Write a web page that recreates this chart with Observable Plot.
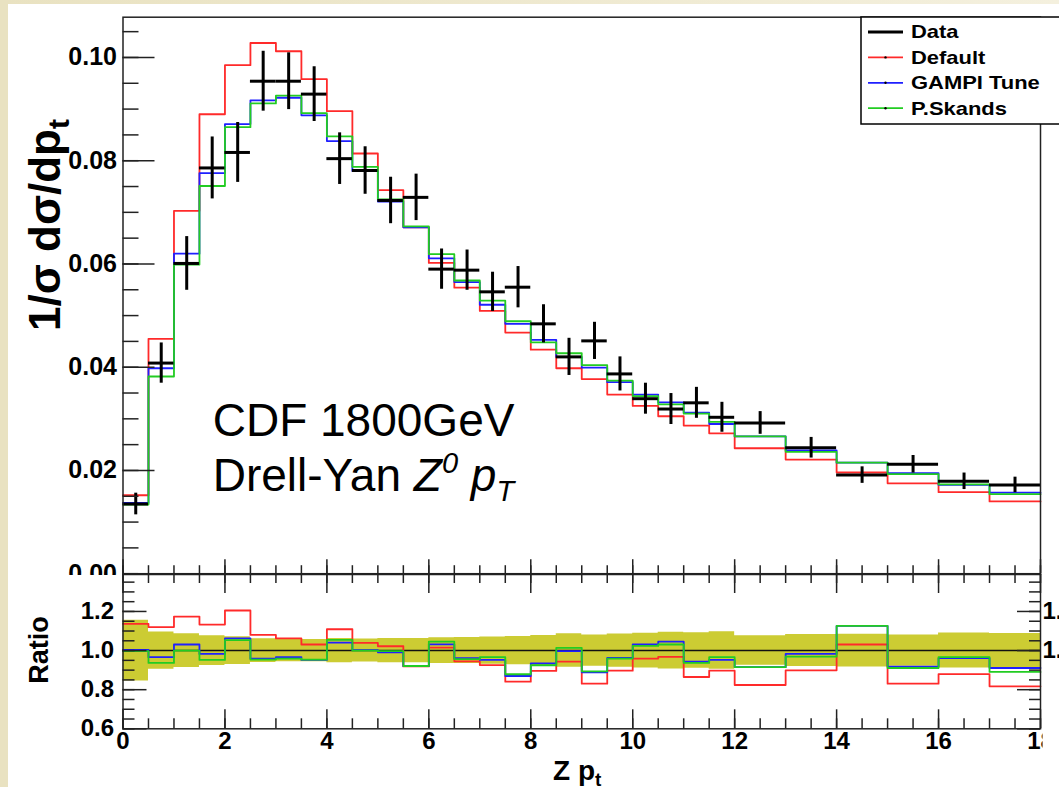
<!DOCTYPE html>
<html>
<head>
<meta charset="utf-8">
<script src="https://cdn.jsdelivr.net/npm/d3@7"></script>
<script src="https://cdn.jsdelivr.net/npm/@observablehq/plot@0.6"></script>
<style>
  html, body { margin: 0; padding: 0; background: #fff; overflow: hidden; }
  #chart { position: relative; width: 1059px; height: 787px; background: #fff; }
  #chart svg { position: absolute; left: 0; }
  .edge { position: absolute; z-index: 5; }
</style>
</head>
<body>
<div id="chart">
  <div class="edge" style="left:0;top:0;width:1059px;height:4px;background:linear-gradient(to right,#e9e2c1,#f4f0de);"></div>
  <div class="edge" style="left:0;top:0;width:8px;height:787px;background:#e9e2c1;"></div>
</div>
<script>
// Z pT bins (GeV): 0.5 wide up to 12, then 1 wide up to 18
const binLow  = [0, 0.5, 1, 1.5, 2, 2.5, 3, 3.5, 4, 4.5, 5, 5.5, 6, 6.5, 7, 7.5, 8, 8.5, 9, 9.5, 10, 10.5, 11, 11.5, 12, 13, 14, 15, 16, 17];
const binHigh = [0.5, 1, 1.5, 2, 2.5, 3, 3.5, 4, 4.5, 5, 5.5, 6, 6.5, 7, 7.5, 8, 8.5, 9, 9.5, 10, 10.5, 11, 11.5, 12, 13, 14, 15, 16, 17, 18];

// CDF measurement, 1/sigma dsigma/dpT
const dataValue = [0.0135, 0.0408, 0.0601, 0.0786, 0.0816, 0.0954, 0.0954, 0.0929, 0.0804, 0.0781, 0.0723, 0.0729, 0.0590, 0.0588, 0.0546, 0.0555, 0.0484, 0.0420, 0.0451, 0.0387, 0.0339, 0.0319, 0.0331, 0.0303, 0.0292, 0.0244, 0.0191, 0.0212, 0.0179, 0.0172];
const dataError = [0.0021, 0.0039, 0.0052, 0.0060, 0.0058, 0.0058, 0.0055, 0.0053, 0.0050, 0.0046, 0.0045, 0.0045, 0.0039, 0.0039, 0.0038, 0.0040, 0.0037, 0.0036, 0.0036, 0.0033, 0.0030, 0.0030, 0.0030, 0.0029, 0.0022, 0.0020, 0.0016, 0.0017, 0.0016, 0.0015];

// Generator predictions
const defaultValue = [0.0152, 0.0455, 0.0703, 0.0890, 0.0985, 0.1028, 0.1012, 0.0958, 0.0896, 0.0814, 0.0743, 0.0671, 0.0602, 0.0554, 0.0509, 0.0467, 0.0434, 0.0398, 0.0377, 0.0347, 0.0325, 0.0305, 0.0287, 0.0272, 0.0243, 0.0221, 0.0196, 0.0175, 0.0158, 0.0140];
const gampiValue   = [0.0137, 0.0398, 0.0620, 0.0776, 0.0871, 0.0917, 0.0922, 0.0888, 0.0838, 0.0780, 0.0721, 0.0671, 0.0611, 0.0565, 0.0521, 0.0484, 0.0453, 0.0420, 0.0399, 0.0371, 0.0347, 0.0332, 0.0312, 0.0290, 0.0266, 0.0239, 0.0215, 0.0195, 0.0172, 0.0157];
const skandsValue  = [0.0134, 0.0382, 0.0599, 0.0751, 0.0865, 0.0911, 0.0926, 0.0892, 0.0847, 0.0788, 0.0725, 0.0673, 0.0619, 0.0568, 0.0529, 0.0489, 0.0448, 0.0427, 0.0404, 0.0374, 0.0344, 0.0328, 0.0310, 0.0294, 0.0266, 0.0236, 0.0215, 0.0193, 0.0173, 0.0154];

// Ratio of each prediction to the data
const ratioDefault = [1.137, 1.120, 1.174, 1.133, 1.205, 1.080, 1.062, 1.031, 1.109, 1.039, 1.022, 0.919, 1.015, 0.945, 0.926, 0.841, 0.896, 0.944, 0.831, 0.897, 0.959, 0.968, 0.865, 0.897, 0.824, 0.899, 1.031, 0.831, 0.880, 0.817];
const ratioGampi   = [1.003, 0.966, 1.031, 0.983, 1.062, 0.959, 0.966, 0.952, 1.041, 1.002, 0.991, 0.920, 1.032, 0.961, 0.952, 0.870, 0.935, 0.997, 0.889, 0.962, 1.032, 1.046, 0.944, 0.952, 0.915, 0.983, 1.126, 0.918, 0.961, 0.911];
const ratioSkands  = [0.997, 0.937, 1.000, 0.952, 1.053, 0.954, 0.959, 0.954, 1.055, 1.000, 0.997, 0.921, 1.046, 0.956, 0.966, 0.879, 0.925, 1.014, 0.894, 0.959, 1.024, 1.031, 0.937, 0.966, 0.915, 0.969, 1.126, 0.911, 0.966, 0.891];

const seriesNames  = ["Data", "Default", "GAMPI Tune", "P.Skands"];
const seriesColors = ["#000000", "#ff2a2a", "#1f1fff", "#22cc22"];

const xTicks = [0, 2, 4, 6, 8, 10, 12, 14, 16, 18];
const yTicks = [0, 0.02, 0.04, 0.06, 0.08, 0.10];
const ratioTicks = [0.6, 0.8, 1.0, 1.2];
const ratioRightTicks = [1.0, 1.2];

const FONT = "'Liberation Sans', Arial, Helvetica, sans-serif";
const AXIS = "#222";
const W = 1059;

// histogram outline: one point per bin low edge plus the final upper edge
function steps(values) {
  const pts = binLow.map((x, i) => ({x, y: values[i]}));
  pts.push({x: binHigh[binHigh.length - 1], y: values[values.length - 1]});
  return pts;
}

const dataRows = binLow.map((lo, i) => ({
  lo, hi: binHigh[i], mid: (lo + binHigh[i]) / 2, v: dataValue[i], e: dataError[i]
}));

const bandPts = binLow.map((x, i) => ({x, lo: 1 - dataError[i] / dataValue[i], hi: 1 + dataError[i] / dataValue[i]}));
bandPts.push({x: binHigh[binHigh.length - 1], lo: bandPts[bandPts.length - 1].lo, hi: bandPts[bandPts.length - 1].hi});

const xMinor = d3.range(0, 18.001, 0.5);

// ---------- upper panel ----------
const mL = 122.5, mR = 19, mT = 16.7, mB = 1.8, mainH = 575;
const frameW = W - mL - mR;
const frameH = mainH - mT - mB;
const yMinor = d3.range(0, 0.1051, 0.005);

const main = Plot.plot({
  width: W, height: mainH,
  marginLeft: mL, marginRight: mR, marginTop: mT, marginBottom: mB,
  x: {domain: [0, 18], axis: null},
  y: {domain: [0, 0.1078], axis: null},
  style: {background: "transparent", fontFamily: FONT, overflow: "hidden"},
  marks: [
    Plot.line(steps(defaultValue), {x: "x", y: "y", curve: "step-after", stroke: seriesColors[1], strokeWidth: 1.8}),
    Plot.line(steps(gampiValue), {x: "x", y: "y", curve: "step-after", stroke: seriesColors[2], strokeWidth: 1.8}),
    Plot.line(steps(skandsValue), {x: "x", y: "y", curve: "step-after", stroke: seriesColors[3], strokeWidth: 1.8}),
    Plot.ruleX(dataRows, {x: "mid", y1: d => d.v - d.e, y2: d => d.v + d.e, stroke: "#000", strokeWidth: 3}),
    Plot.ruleY(dataRows, {y: "v", x1: "lo", x2: "hi", stroke: "#000", strokeWidth: 3}),
    Plot.frame({stroke: AXIS, strokeWidth: 1.5}),
    Plot.tickY(yTicks, {insetRight: frameW - 32, stroke: AXIS, strokeWidth: 1.5}),
    Plot.tickY(yMinor, {insetRight: frameW - 16, stroke: AXIS, strokeWidth: 1.5}),
    Plot.tickX(xTicks, {insetTop: frameH - 14, stroke: AXIS, strokeWidth: 1.5}),
    Plot.tickX(xMinor, {insetTop: frameH - 8, stroke: AXIS, strokeWidth: 1.5}),
    Plot.axisY(yTicks, {tickSize: 0, tickPadding: 6, tickFormat: d3.format(".2f"), fontSize: 25, fontWeight: "bold", label: null})
  ]
});

// ---------- ratio panel ----------
const rTop = 573, rH = 787 - rTop, rT = 1, rB = 58.7;
const rFrameH = rH - rT - rB;
const rMinor = d3.range(0.6, 1.3501, 0.05);

const ratio = Plot.plot({
  width: W, height: rH,
  marginLeft: mL, marginRight: mR, marginTop: rT, marginBottom: rB,
  x: {domain: [0, 18], axis: null},
  y: {domain: [0.6, 1.389], axis: null},
  style: {background: "transparent", fontFamily: FONT, overflow: "hidden"},
  marks: [
    Plot.areaY(bandPts, {x: "x", y1: "lo", y2: "hi", curve: "step-after", fill: "#cccc33"}),
    Plot.ruleY([1], {stroke: "#111", strokeWidth: 1.6}),
    Plot.line(steps(ratioDefault), {x: "x", y: "y", curve: "step-after", stroke: seriesColors[1], strokeWidth: 1.8}),
    Plot.line(steps(ratioGampi), {x: "x", y: "y", curve: "step-after", stroke: seriesColors[2], strokeWidth: 1.8}),
    Plot.line(steps(ratioSkands), {x: "x", y: "y", curve: "step-after", stroke: seriesColors[3], strokeWidth: 1.8}),
    Plot.frame({stroke: AXIS, strokeWidth: 1.5}),
    Plot.tickY(ratioTicks, {insetRight: frameW - 24, stroke: AXIS, strokeWidth: 1.5}),
    Plot.tickY(rMinor, {insetRight: frameW - 12, stroke: AXIS, strokeWidth: 1.5}),
    Plot.tickY(ratioTicks, {insetLeft: frameW - 23, stroke: AXIS, strokeWidth: 1.5}),
    Plot.tickY(rMinor, {insetLeft: frameW - 11, stroke: AXIS, strokeWidth: 1.5}),
    Plot.tickX(xTicks, {insetTop: rFrameH - 19, stroke: AXIS, strokeWidth: 1.5}),
    Plot.tickX(xMinor, {insetTop: rFrameH - 10, stroke: AXIS, strokeWidth: 1.5}),
    Plot.tickX(xTicks, {insetBottom: rFrameH - 19, stroke: AXIS, strokeWidth: 1.5}),
    Plot.tickX(xMinor, {insetBottom: rFrameH - 9, stroke: AXIS, strokeWidth: 1.5}),
    Plot.axisY(ratioTicks, {tickSize: 0, tickPadding: 9, tickFormat: d3.format(".1f"), fontSize: 24, fontWeight: "bold", label: null}),
    Plot.axisY(ratioRightTicks, {anchor: "right", tickSize: 0, tickPadding: 2, tickFormat: d3.format(".1f"), fontSize: 24, fontWeight: "bold", label: null}),
    Plot.axisX(xTicks, {tickSize: 0, tickPadding: 3, fontSize: 24, fontWeight: "bold", label: null})
  ]
});

main.style.top = "0px";
ratio.style.top = rTop + "px";

// ---------- text that needs sub/superscripts, and the legend ----------
const ms = d3.select(main);
const xs = main.scale("x"), ys = main.scale("y");

const note = ms.append("g").attr("font-family", FONT).attr("font-size", 46)
  .attr("text-anchor", "start").attr("fill", "#000");
note.append("text").attr("x", xs.apply(1.77)).attr("y", ys.apply(0.0265)).text("CDF 1800GeV");
const l2 = note.append("text").attr("x", xs.apply(1.77)).attr("y", ys.apply(0.0160));
l2.append("tspan").text("Drell-Yan ");
l2.append("tspan").attr("font-style", "italic").text("Z");
l2.append("tspan").attr("font-style", "italic").attr("font-size", 29).attr("dy", -18).text("0");
l2.append("tspan").attr("dy", 18).text(" ");
l2.append("tspan").attr("font-style", "italic").text("p");
l2.append("tspan").attr("font-style", "italic").attr("font-size", 29).attr("dy", 10).text("T");

const yTitle = ms.append("text")
  .attr("transform", "translate(60,225) rotate(-90)")
  .attr("text-anchor", "middle").attr("font-family", FONT)
  .attr("font-weight", "bold").attr("font-size", 44).attr("fill", "#000");
yTitle.append("tspan").text("1/σ dσ/dp");
yTitle.append("tspan").attr("font-size", 30).attr("dy", 9).text("t");

const legend = ms.append("g").attr("font-family", FONT).attr("font-weight", "bold")
  .attr("font-size", 18).attr("text-anchor", "start");
legend.append("rect").attr("x", 861).attr("y", 17).attr("width", 230).attr("height", 107)
  .attr("fill", "#fff").attr("stroke", "#000").attr("stroke-width", 1.5);
seriesNames.forEach((name, i) => {
  const cy = 32 + i * 25.4;
  legend.append("line").attr("x1", 868).attr("x2", 903).attr("y1", cy).attr("y2", cy)
    .attr("stroke", seriesColors[i]).attr("stroke-width", i === 0 ? 3 : 1.8);
  if (i > 0) legend.append("circle").attr("cx", 885.5).attr("cy", cy).attr("r", 1.2).attr("fill", "#000");
  legend.append("text").attr("transform", `translate(911,${cy}) scale(1.22,1)`)
    .attr("dy", "0.36em").attr("fill", "#000").text(name);
});

const rs = d3.select(ratio);
rs.append("text")
  .attr("transform", "translate(48,77) rotate(-90)")
  .attr("text-anchor", "middle").attr("font-family", FONT)
  .attr("font-weight", "bold").attr("font-size", 27).attr("fill", "#000")
  .text("Ratio");
const xTitle = rs.append("text").attr("x", 553).attr("y", 207).attr("text-anchor", "start")
  .attr("font-family", FONT).attr("font-weight", "bold").attr("font-size", 28).attr("fill", "#000");
xTitle.append("tspan").text("Z p");
xTitle.append("tspan").attr("font-size", 19).attr("dy", 6).text("t");

// the last x label is cut at the pad edge
rs.append("defs").append("clipPath").attr("id", "xlabel-clip")
  .append("rect").attr("x", 0).attr("y", 0).attr("width", W - mR + 2).attr("height", rH);
rs.selectAll('g[aria-label="x-axis tick label"]').attr("clip-path", "url(#xlabel-clip)");

document.getElementById("chart").append(main, ratio);
</script>
</body>
</html>
